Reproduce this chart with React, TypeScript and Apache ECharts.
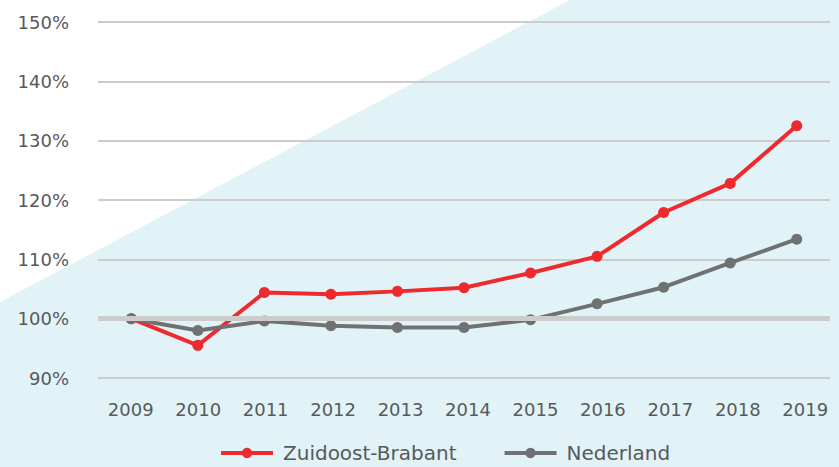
import React, { useEffect, useRef } from "react";
import * as echarts from "echarts";

const years = ["2009", "2010", "2011", "2012", "2013", "2014", "2015", "2016", "2017", "2018", "2019"];
const zuidoostBrabant = [100, 95.5, 104.4, 104.1, 104.6, 105.2, 107.7, 110.5, 117.9, 122.8, 132.5];
const nederland = [100, 98.0, 99.6, 98.8, 98.5, 98.5, 99.8, 102.5, 105.3, 109.4, 113.4];
const yTicks = [90, 100, 110, 120, 130, 140, 150];

const RED = "#ee2a2e";
const GRAY = "#707173";
const TEXT = "#58595b";
const FONT = "DejaVu Sans";

export default function App() {
  const ref = useRef<HTMLDivElement>(null);
  useEffect(() => {
    document.body.style.margin = "0";
    const chart = echarts.init(ref.current!, null, { renderer: "svg" });
    chart.setOption({
      animation: false,
      graphic: [
        {
          type: "polygon",
          z: -10,
          silent: true,
          shape: { points: [[0, 302], [570, 0], [839, 0], [839, 467], [0, 467]] },
          style: { fill: "#e2f3f8" },
        },
      ],
      legend: {
        data: ["Zuidoost-Brabant", "Nederland"],
        left: 219,
        top: 443,
        padding: 0,
        itemWidth: 52,
        itemHeight: 13,
        itemGap: 46,
        lineStyle: { width: 4 },
        textStyle: { fontFamily: FONT, fontSize: 20, color: TEXT, padding: [0, 0, 0, 5] },
      },
      grid: [
        { left: 98, right: 9, top: 22, bottom: 89 },
        { left: 97, width: 752, top: 22, bottom: 89 },
      ],
      xAxis: [
        {
          type: "category",
          gridIndex: 0,
          data: years,
          boundaryGap: true,
          axisLine: { show: false },
          axisTick: { show: false },
          axisLabel: { show: false },
        },
        {
          type: "category",
          gridIndex: 1,
          data: years,
          boundaryGap: true,
          axisLine: { show: false },
          axisTick: { show: false },
          axisLabel: { margin: 22, fontFamily: FONT, fontSize: 18, color: TEXT },
        },
      ],
      yAxis: [
        {
          type: "value",
          gridIndex: 0,
          min: 90,
          max: 150,
          interval: 10,
          axisLine: { show: false },
          axisTick: { show: false },
          axisLabel: {
            margin: 29,
            fontFamily: FONT,
            fontSize: 18,
            color: TEXT,
            formatter: (v: number) => (yTicks.includes(v) ? v + "%" : ""),
          },
          splitLine: { lineStyle: { color: "#cccccc", width: 2 } },
        },
        {
          type: "value",
          gridIndex: 1,
          min: 90,
          max: 150,
          show: false,
          splitLine: { show: false },
        },
      ],
      series: [
        {
          name: "base",
          type: "line",
          xAxisIndex: 0,
          yAxisIndex: 0,
          data: years.map(() => 100),
          z: 1,
          silent: true,
          symbol: "none",
          lineStyle: { opacity: 0 },
          markLine: {
            silent: true,
            symbol: "none",
            label: { show: false },
            lineStyle: { color: "#cccccc", width: 5, type: "solid" },
            data: [{ yAxis: 100 }],
          },
        },
        {
          name: "Zuidoost-Brabant",
          type: "line",
          xAxisIndex: 0,
          yAxisIndex: 0,
          data: zuidoostBrabant,
          z: 3,
          symbol: "circle",
          symbolSize: 11,
          color: RED,
          lineStyle: { color: RED, width: 4 },
          itemStyle: { color: RED },
        },
        {
          name: "Nederland",
          type: "line",
          xAxisIndex: 0,
          yAxisIndex: 0,
          data: nederland,
          z: 4,
          symbol: "circle",
          symbolSize: 11,
          color: GRAY,
          lineStyle: { color: GRAY, width: 4 },
          itemStyle: { color: GRAY },
        },
      ],
    });
    return () => chart.dispose();
  }, []);
  return <div ref={ref} style={{ width: 839, height: 467 }} />;
}
